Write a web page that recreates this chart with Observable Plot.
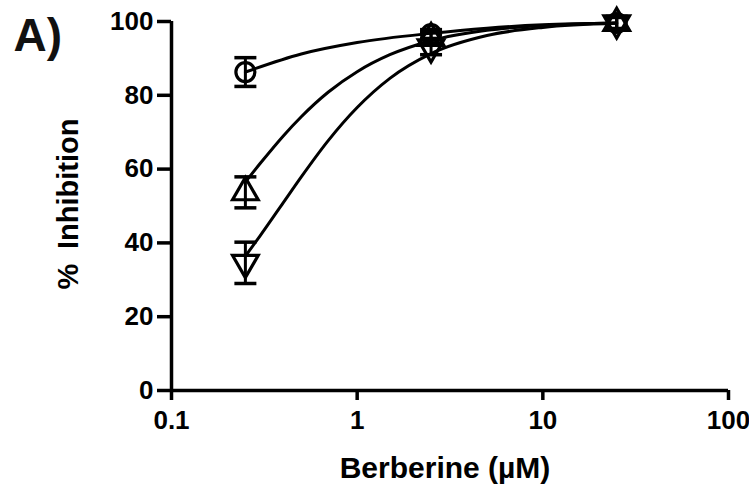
<!DOCTYPE html>
<html><head><meta charset="utf-8">
<script src="https://cdn.jsdelivr.net/npm/d3@7"></script>
<script src="https://cdn.jsdelivr.net/npm/@observablehq/plot@0.6"></script>
<style>body{margin:0;background:#fff;} #chart{width:749px;height:489px;}</style>
</head><body><div id="chart"></div>
<script>
// Measured doses (µM)
const doses = [0.25, 2.5, 25];
// Series: open circle, triangle up, triangle down (mean ± error, % inhibition)
const circleMean = [86.3, 96.6, 99.6];
const circleErr  = [3.9, 1.2, 1.5];
const upMean     = [53.7, 95.5, 99.6];
const upErr      = [4.2, 1.5, 1.8];
const downMean   = [34.6, 93.0, 99.5];
const downErr    = [5.6, 2.0, 1.8];

// Fitted curves
const circleFitX = [0.25, 0.5, 1, 2.5, 5, 10, 25];
const circleFitY = [86.3, 91.2, 94.3, 96.8, 98.2, 99.1, 99.6];
const upFitX = [0.25, 0.3, 0.4, 0.5, 0.7, 1, 1.5, 2.5, 5, 10, 25];
const upFitY = [56.5, 61.5, 69.0, 74.2, 80.9, 86.4, 91.0, 94.8, 97.6, 98.9, 99.6];
const downFitX = [0.25, 0.3, 0.4, 0.5, 0.7, 1, 1.5, 2.5, 5, 10, 25];
const downFitY = [36.4, 41.9, 50.9, 57.9, 67.8, 76.7, 84.6, 91.3, 96.2, 98.4, 99.5];

// Axis ticks
const xTicks = [0.1, 1, 10, 100];
const xTickLabels = ["0.1", "1", "10", "100"];
const yTicks = [0, 20, 40, 60, 80, 100];

const panelLabel = "A)";
const xLabel = "Berberine (µM)";
const yLabel = "%\u2002Inhibition";

const s3 = Math.sqrt(3);
const triangleDown = {draw(ctx, size) {
  const y = Math.sqrt(size / (s3 * 3));
  ctx.moveTo(0, 2 * y); ctx.lineTo(-s3 * y, -y); ctx.lineTo(s3 * y, -y); ctx.closePath();
}};
const capSymbol = {draw(ctx, size) {
  const w = Math.sqrt(size) / 2;
  ctx.moveTo(-w, 0); ctx.lineTo(w, 0);
}};

const series = [
  {name: "circle", mean: circleMean, err: circleErr, symbol: "circle", fx: circleFitX, fy: circleFitY},
  {name: "up", mean: upMean, err: upErr, symbol: "triangle", fx: upFitX, fy: upFitY},
  {name: "down", mean: downMean, err: downErr, symbol: triangleDown, fx: downFitX, fy: downFitY}
];

const points = series.flatMap(s => doses.map((d, i) => ({x: d, y: s.mean[i], lo: s.mean[i] - s.err[i], hi: s.mean[i] + s.err[i], symbol: s.symbol})));
const fits = series.flatMap(s => s.fx.map((x, i) => ({x, y: s.fy[i], name: s.name})));
const caps = points.flatMap(p => [{x: p.x, y: p.lo}, {x: p.x, y: p.hi}]);

const font = {fontSize: 26, fontWeight: "bold"};
const lw = 3.5;

const plot = Plot.plot({
  width: 749, height: 489,
  marginLeft: 171, marginRight: 21, marginTop: 21, marginBottom: 99,
  style: {fontFamily: "'Liberation Sans', Arial, sans-serif", color: "#000", background: "#fff"},
  x: {type: "log", domain: [0.1, 100]},
  y: {domain: [0, 100]},
  marks: [
    Plot.line(fits, {x: "x", y: "y", z: "name", curve: "monotone-x", stroke: "#000", strokeWidth: 3}),
    Plot.ruleX(points, {x: "x", y1: "lo", y2: "hi", stroke: "#000", strokeWidth: 3}),
    Plot.dot(caps, {x: "x", y: "y", symbol: capSymbol, r: 22 / Math.sqrt(Math.PI), stroke: "#000", strokeWidth: 3.5}),
    Plot.dot(points, {x: "x", y: "y", symbol: "symbol", r: 9.5, fill: "none", stroke: "#000", strokeWidth: 3.2}),
    Plot.ruleY([0], {stroke: "#000", strokeWidth: lw}),
    Plot.ruleX([0.1], {stroke: "#000", strokeWidth: lw}),
    Plot.axisX({ticks: xTicks, tickFormat: d => xTickLabels[xTicks.indexOf(d)], tickSize: 10, tickPadding: 10, strokeWidth: lw, label: null, ...font}),
    Plot.axisY({ticks: yTicks, tickSize: 14, tickPadding: 4, strokeWidth: lw, label: null, ...font}),
    Plot.text([xLabel], {text: d => d, frameAnchor: "bottom", dy: 87, dx: -5, textAnchor: "middle", lineAnchor: "bottom", fontSize: 30, fontWeight: "bold"}),
    Plot.text([yLabel], {text: d => d, frameAnchor: "left", dx: -94, dy: -2, rotate: -90, textAnchor: "middle", lineAnchor: "bottom", fontSize: 29, fontWeight: "bold"}),
    Plot.text([panelLabel], {text: d => d, frameAnchor: "top-left", dx: -158, dy: 29, textAnchor: "start", lineAnchor: "bottom", fontSize: 46, fontWeight: "bold", fill: "#111"})
  ]
});
document.getElementById("chart").appendChild(plot);
</script>
</body></html>
